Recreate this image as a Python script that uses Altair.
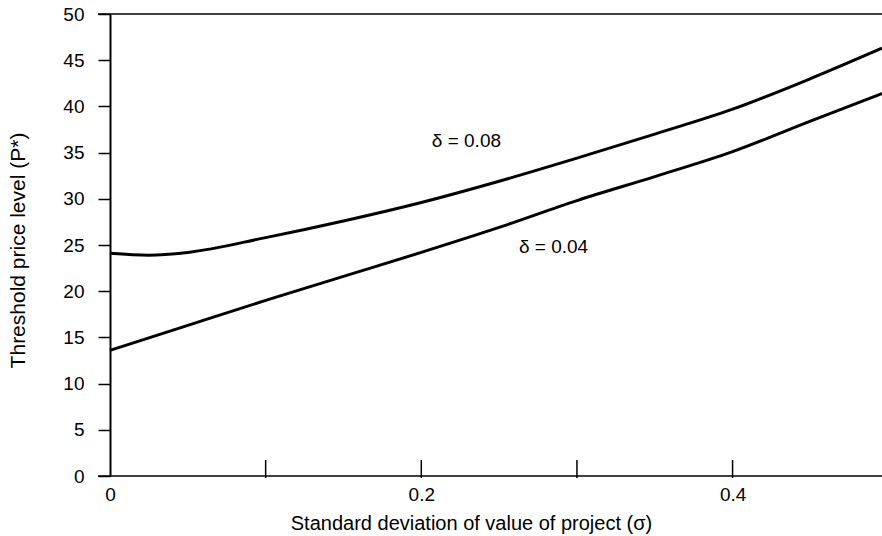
import altair as alt
import pandas as pd

# data
sigma = [0.0, 0.025, 0.05, 0.1, 0.15, 0.2, 0.25, 0.3, 0.35, 0.4, 0.45, 0.496]
p_008 = [24.1, 23.9, 24.2, 25.8, 27.6, 29.6, 31.9, 34.4, 37.0, 39.7, 43.0, 46.3]
sigma_b = [0.0, 0.05, 0.1, 0.15, 0.2, 0.25, 0.3, 0.35, 0.4, 0.45, 0.496]
p_004 = [13.6, 16.3, 19.0, 21.6, 24.2, 26.9, 29.8, 32.4, 35.1, 38.4, 41.4]

label_text = ["δ = 0.08", "δ = 0.04"]
label_x = [0.229, 0.285]
label_y = [36.3, 24.8]

x_ticks = [0.1, 0.2, 0.3, 0.4]
x_labels = [0, 0.2, 0.4]
y_labels = list(range(0, 55, 5))

FONT = "Liberation Sans"
W, H = 772, 462

df = pd.DataFrame(
    {"x": sigma + sigma_b,
     "y": p_008 + p_004,
     "s": ["0.08"] * len(sigma) + ["0.04"] * len(sigma_b)}
)
lab = pd.DataFrame({"x": label_x, "y": label_y, "t": label_text})
tk = pd.DataFrame({"x": x_ticks})

xscale = alt.Scale(domain=[0, 0.496], nice=False, zero=False)
yscale = alt.Scale(domain=[0, 50], nice=False)

xaxis = alt.Axis(
    title="Standard deviation of value of project (σ)",
    values=x_labels, format="~g", ticks=False, domain=False, grid=False,
    labelFontSize=19, labelFont=FONT, labelColor="black", labelPadding=9,
    titleFontSize=20, titleFont=FONT, titleFontWeight="normal", titleColor="black",
    titleX=361, titleY=47, titleAlign="center", titleBaseline="middle",
    labelFlush=False,
)
yaxis = alt.Axis(
    title="Threshold price level (P*)",
    values=y_labels, tickSize=12, tickWidth=1.5, tickColor="black",
    domain=True, domainColor="black", domainWidth=2, grid=False,
    labelFontSize=19, labelFont=FONT, labelColor="black", labelPadding=14,
    titleFontSize=21, titleFont=FONT, titleFontWeight="normal", titleColor="black",
    titleAngle=270, titleX=-92, titleY=236, titleAlign="center", titleBaseline="middle",
)

lines = alt.Chart(df).mark_line(color="black", strokeWidth=3, interpolate="monotone").encode(
    x=alt.X("x:Q", scale=xscale, axis=xaxis),
    y=alt.Y("y:Q", scale=yscale, axis=yaxis),
    detail="s:N",
)

top_rule = alt.Chart().mark_rule(color="black", strokeWidth=1.5).encode(
    y=alt.datum(50), x=alt.value(-12), x2=alt.value(W)
)
bottom_rule = alt.Chart().mark_rule(color="black", strokeWidth=1.5).encode(
    y=alt.datum(0), x=alt.value(-12), x2=alt.value(W)
)
ticks = alt.Chart(tk).mark_rule(color="black", strokeWidth=1.5).encode(
    x="x:Q", y=alt.value(H - 16), y2=alt.value(H + 2)
)
labels = alt.Chart(lab).mark_text(font=FONT, fontSize=19, color="black").encode(
    x="x:Q", y="y:Q", text="t:N"
)

chart = alt.layer(lines, top_rule, bottom_rule, ticks, labels).properties(
    width=W, height=H,
    autosize=alt.AutoSizeParams(type="none"),
    padding={"left": 110, "top": 14, "right": 0, "bottom": 60},
    background="white",
).configure_view(stroke=None)

chart.save("out.html", embed_options={"renderer": "svg", "actions": False})
